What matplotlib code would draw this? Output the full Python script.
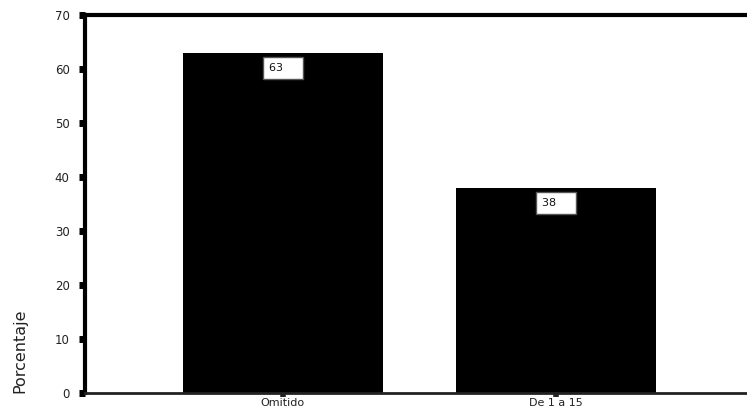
import matplotlib
matplotlib.use("Agg")
import matplotlib.pyplot as plt

categories = ["Omitido", "De 1 a 15"]
values = [63, 38]
labels = ["63", "38"]
yticks = [0, 10, 20, 30, 40, 50, 60, 70]

W, H = 747, 412
fig = plt.figure(figsize=(W / 100, H / 100), dpi=100)
ax = fig.add_axes([85 / W, 1 - 393 / H, 1 - 85 / W, (393 - 15) / H])

x = list(range(len(categories)))
ax.bar(x, values, width=0.73, color="black", edgecolor="black", linewidth=0)
ax.set_xlim(-0.725, 1.70)
ax.set_ylim(0, 70)

for xi, v, lab in zip(x, values, labels):
    ax.annotate(lab + "    ", xy=(xi, v), xytext=(0, -15), textcoords="offset pixels",
                ha="center", va="center", fontsize=8, family="DejaVu Sans",
                color="#111111",
                bbox=dict(boxstyle="square,pad=0.55", fc="white", ec="#555555", lw=1))

ax.set_yticks(yticks)
ax.set_yticklabels([str(t) for t in yticks])
ax.set_xticks(x)
ax.set_xticklabels(categories)

for lbl in ax.get_yticklabels():
    lbl.set_fontfamily("DejaVu Sans")
    lbl.set_fontsize(8.5)
    lbl.set_color("#222222")
for lbl in ax.get_xticklabels():
    lbl.set_fontfamily("DejaVu Sans")
    lbl.set_fontsize(8)
    lbl.set_color("#222222")

ax.tick_params(axis="y", direction="out", length=4, width=5, pad=7, color="black")
ax.tick_params(axis="x", direction="out", length=3, width=4, pad=0.5, color="#222222")

ax.spines["right"].set_visible(False)
ax.spines["left"].set_linewidth(3)
ax.spines["top"].set_linewidth(3)
ax.spines["bottom"].set_linewidth(2)
ax.spines["bottom"].set_color("#222222")

fig.text(20 / W, 1 - 393 / H, "Porcentaje", rotation=90, ha="center", va="bottom",
         fontsize=11.5, family=["Liberation Sans Narrow", "DejaVu Sans"], color="#222222")

fig.savefig("out.png", dpi=100)
